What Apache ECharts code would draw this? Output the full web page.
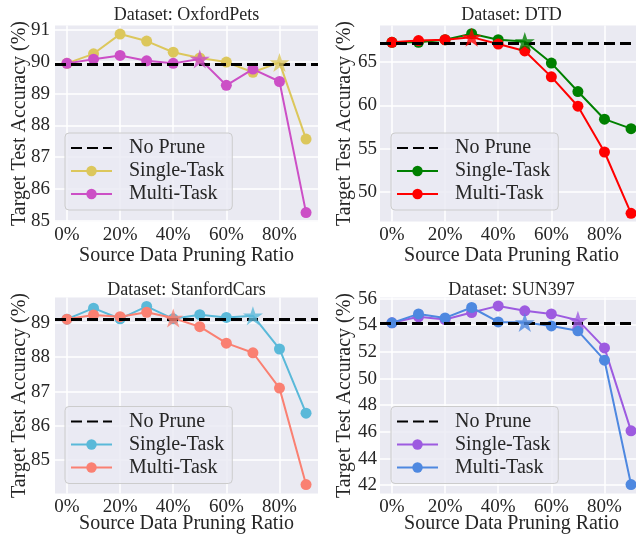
<!DOCTYPE html>
<html><head><meta charset="utf-8">
<script src="https://cdn.jsdelivr.net/npm/echarts@6/dist/echarts.min.js"></script>
<style>html,body{margin:0;padding:0;background:#fff}#c{width:636px;height:535px}</style>
</head><body><div id="c"></div>
<script>
// ---------- data ----------
const ratios = [0, 10, 20, 30, 40, 50, 60, 70, 80, 90];
const xTicks = [0, 20, 40, 60, 80];
const xRange = [-4.5, 94.5];

const petsNoPrune = 89.93;
const petsSingle = [89.95, 90.25, 90.87, 90.65, 90.30, 90.12, 89.99, 89.67, 89.98, 87.57];
const petsMulti  = [89.95, 90.08, 90.20, 90.03, 89.95, 90.09, 89.26, 89.77, 89.38, 85.26];
const petsStars  = [8, 5];
const petsYTicks = [85, 86, 87, 88, 89, 90, 91];
const petsYRange = [84.98, 91.14];

const dtdNoPrune = 67.25;
const dtdSingle = [67.3, 67.3, 67.6, 68.3, 67.6, 67.4, 64.9, 61.6, 58.4, 57.3];
const dtdMulti  = [67.3, 67.5, 67.6, 67.9, 67.1, 66.3, 63.3, 59.9, 54.6, 47.5];
const dtdStars  = [5, 3];
const dtdYTicks = [50, 55, 60, 65];
const dtdYRange = [46.55, 69.25];

const carsNoPrune = 89.1;
const carsSingle = [89.11, 89.43, 89.12, 89.48, 89.12, 89.24, 89.16, 89.21, 88.24, 86.37];
const carsMulti  = [89.11, 89.23, 89.18, 89.31, 89.14, 88.89, 88.41, 88.13, 87.10, 84.29];
const carsStars  = [7, 4];
const carsYTicks = [85, 86, 87, 88, 89];
const carsYRange = [84.03, 89.74];

const sunNoPrune = 54.18;
const sunSingle = [54.18, 54.63, 54.43, 54.95, 55.45, 55.08, 54.85, 54.38, 52.30, 46.08];
const sunMulti  = [54.18, 54.85, 54.55, 55.33, 54.25, 54.20, 53.95, 53.58, 51.38, 42.05];
const sunStars  = [7, 5];
const sunYTicks = [42, 44, 46, 48, 50, 52, 54, 56];
const sunYRange = [41.38, 56.08];

const titles = ['Dataset: OxfordPets', 'Dataset: DTD', 'Dataset: StanfordCars', 'Dataset: SUN397'];
const seriesNames = ['No Prune', 'Single-Task', 'Multi-Task'];
const xName = 'Source Data Pruning Ratio';
const yName = 'Target Test Accuracy (%)';

// ---------- style / layout ----------
const FONT = 'Liberation Serif';
const TXT = '#262626';
const STAR = 'path://M0,-100 L22.45,-30.9 L95.11,-30.9 L36.33,11.8 L58.78,80.9 L0,38.2 L-58.78,80.9 L-36.33,11.8 L-95.11,-30.9 L-22.45,-30.9 Z';

const panels = [
  {noPrune: petsNoPrune, single: petsSingle, multi: petsMulti, stars: petsStars, yTicks: petsYTicks, yRange: petsYRange,
   colors: ['#dcc75c', '#cc4fc6'], grid: {left: 55, top: 25.5}, legend: {left: 65, top: 133}, titleTop: 6, xGap: 24},
  {noPrune: dtdNoPrune, single: dtdSingle, multi: dtdMulti, stars: dtdStars, yTicks: dtdYTicks, yRange: dtdYRange,
   colors: ['#008000', '#ff0000'], grid: {left: 380, top: 25.5}, legend: {left: 391, top: 133}, titleTop: 6, xGap: 24},
  {noPrune: carsNoPrune, single: carsSingle, multi: carsMulti, stars: carsStars, yTicks: carsYTicks, yRange: carsYRange,
   colors: ['#5ab9d9', '#fa8072'], grid: {left: 55, top: 297.5}, legend: {left: 65, top: 406.5}, titleTop: 281, xGap: 20},
  {noPrune: sunNoPrune, single: sunSingle, multi: sunMulti, stars: sunStars, yTicks: sunYTicks, yRange: sunYRange,
   colors: ['#9d5be0', '#4e88e0'], grid: {left: 380, top: 297.5}, legend: {left: 391, top: 406.5}, titleTop: 281, xGap: 20}
];
const GW = 263, GH = 196;

const option = {animation: false, backgroundColor: '#fff', title: [], grid: [], xAxis: [], yAxis: [], legend: [], series: []};

panels.forEach((p, i) => {
  const nm = seriesNames.map(s => s + '#' + i);
  option.title.push({
    text: titles[i], left: p.grid.left + GW / 2, top: p.titleTop, textAlign: 'center', padding: 0,
    textStyle: {fontFamily: FONT, fontSize: 18, fontWeight: 'normal', color: TXT}
  });
  option.grid.push({
    left: p.grid.left, top: p.grid.top, width: GW, height: GH, show: true,
    backgroundColor: '#eaeaf2', borderWidth: 0, containLabel: false, outerBoundsMode: 'none'
  });
  option.xAxis.push({
    gridIndex: i, type: 'value', min: xRange[0], max: xRange[1],
    axisLine: {show: false}, axisTick: {show: false, customValues: xTicks},
    axisLabel: {customValues: xTicks, formatter: v => v + '%', fontFamily: FONT, fontSize: 19, color: TXT, margin: 4},
    splitLine: {show: true, lineStyle: {color: '#ffffff', width: 1.5}},
    name: xName, nameLocation: 'middle', nameGap: p.xGap, nameMoveOverlap: false,
    nameTextStyle: {fontFamily: FONT, fontSize: 20, color: TXT}
  });
  option.yAxis.push({
    gridIndex: i, type: 'value', min: p.yRange[0], max: p.yRange[1],
    axisLine: {show: false}, axisTick: {show: false, customValues: p.yTicks},
    axisLabel: {customValues: p.yTicks, fontFamily: FONT, fontSize: 19, color: TXT, margin: i % 2 ? 3 : 5},
    splitLine: {show: true, lineStyle: {color: '#ffffff', width: 1.5}},
    name: yName, nameLocation: 'middle', nameGap: 25, nameMoveOverlap: false,
    nameTextStyle: {fontFamily: FONT, fontSize: 20, color: TXT}
  });
  option.legend.push({
    left: p.legend.left, top: p.legend.top, orient: 'vertical', data: nm, selectedMode: false,
    formatter: n => n.split('#')[0],
    itemWidth: 41, itemHeight: 13, itemGap: 3, padding: [5, 8, 6, 5],
    backgroundColor: 'rgba(234,234,242,0.8)', borderColor: '#cccccc', borderWidth: 1, borderRadius: 4,
    textStyle: {fontFamily: FONT, fontSize: 20, color: TXT, lineHeight: 20, padding: [0, 0, 0, 12]}
  });
  // No Prune reference line
  option.series.push({
    type: 'line', name: nm[0], xAxisIndex: i, yAxisIndex: i, data: [], symbol: 'none', z: 1,
    lineStyle: {color: '#000000', width: 3, type: [11, 5]}, itemStyle: {color: 'rgba(0,0,0,0)', opacity: 0},
    markLine: {silent: true, symbol: ['none', 'none'], label: {show: false},
      lineStyle: {color: '#000000', width: 3, type: [11, 5], opacity: 1}, data: [{yAxis: p.noPrune}]}
  });
  [p.single, p.multi].forEach((vals, k) => {
    const col = p.colors[k];
    option.series.push({
      type: 'line', name: nm[k + 1], xAxisIndex: i, yAxisIndex: i, z: 2 + k,
      symbol: 'circle', symbolSize: 11, showSymbol: true,
      lineStyle: {color: col, width: 2}, itemStyle: {color: col},
      data: ratios.map((r, j) => ({value: [r, vals[j]], symbol: j === p.stars[k] ? 'none' : 'circle'}))
    });
  });
  [p.single, p.multi].forEach((vals, k) => {
    const col = p.colors[k];
    const s = p.stars[k];
    option.series.push({
      type: 'scatter', name: 'star' + k + '#' + i, xAxisIndex: i, yAxisIndex: i, z: 5,
      symbol: STAR, symbolSize: [20, 19], itemStyle: {color: col},
      data: [[ratios[s], vals[s]]]
    });
  });
});

const chart = echarts.init(document.getElementById('c'), null, {renderer: 'canvas'});
chart.setOption(option);
</script>
</body></html>
